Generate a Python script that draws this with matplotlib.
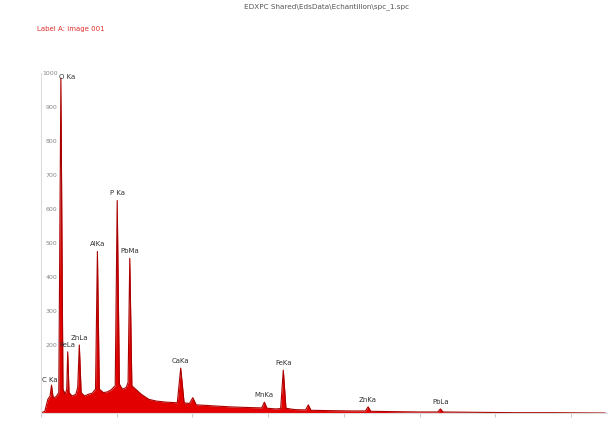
import matplotlib.pyplot as plt
import numpy as np

# spectre EDS (énergie en keV, coups)
energie = [0.00, 0.10, 0.18, 0.24, 0.277, 0.32, 0.40, 0.47, 0.525, 0.58, 0.64, 0.68,
           0.705, 0.74, 0.82, 0.92, 0.97, 1.012, 1.06, 1.15, 1.25, 1.35, 1.44,
           1.49, 1.54, 1.65, 1.75, 1.85, 1.96, 2.013, 2.07, 2.15, 2.25, 2.30,
           2.345, 2.40, 2.50, 2.65, 2.85, 3.05, 3.30, 3.60, 3.69, 3.78, 3.92,
           4.01, 4.10, 4.40, 5.00, 5.50, 5.83, 5.90, 5.97, 6.20, 6.33, 6.40,
           6.47, 6.70, 6.99, 7.06, 7.13, 7.60, 8.20, 8.57, 8.64, 8.71, 9.30,
           10.00, 10.48, 10.55, 10.62, 11.50, 12.50, 13.50, 14.90]
coups = [0, 5, 40, 50, 82, 45, 48, 60, 985, 70, 55, 70,
         180, 60, 50, 55, 75, 200, 60, 50, 55, 58, 70,
         475, 70, 60, 62, 68, 80, 625, 85, 70, 75, 90,
         455, 80, 70, 55, 40, 35, 32, 30, 132, 30, 28,
         45, 24, 22, 18, 16, 15, 32, 14, 12, 13, 126,
         14, 10, 9, 24, 8, 7, 6, 6, 18, 5, 4,
         3, 3, 12, 3, 2, 1, 1, 0]

raies = ["C Ka", "O Ka", "FeLa", "ZnLa", "AlKa", "P Ka", "PbMa", "CaKa",
         "MnKa", "FeKa", "ZnKa", "PbLa"]
raies_e = [0.277, 0.525, 0.705, 1.012, 1.49, 2.013, 2.345, 3.69,
           5.90, 6.40, 8.64, 10.55]
raies_h = [82, 985, 180, 200, 475, 625, 455, 132, 32, 126, 18, 12]

graduations_x = [0, 2, 4, 6, 8, 10, 12, 14]
graduations_y = [100, 200, 300, 400, 500, 600, 700, 800, 900, 1000]

fig = plt.figure(figsize=(6.1, 4.22), dpi=100)
ax = fig.add_axes([41/610, 1 - 413/422, 566/610, 340/422])

ax.fill_between(energie, coups, color='#e30000', linewidth=0)
ax.plot(energie, coups, color='#a80000', linewidth=0.8)

for nom, e, h in zip(raies, raies_e, raies_h):
    if nom == "O Ka":
        ax.text(e - 0.06, h - 5, nom, fontsize=5, color='#333333',
                ha='left', va='bottom')
    elif nom == "C Ka":
        ax.text(e - 0.05, h + 5, nom, fontsize=5, color='#333333',
                ha='center', va='bottom')
    else:
        ax.text(e, h + 12, nom, fontsize=5, color='#333333',
                ha='center', va='bottom')

ax.set_xlim(0, 14.95)
ax.set_ylim(0, 1000)
ax.set_xticks(graduations_x)
ax.set_xticklabels([])
ax.set_yticks(graduations_y)
# l'étiquette 100 est masquée par C Ka sur l'original
ax.set_yticklabels(['' if v == 100 else str(v) for v in graduations_y])
ax.tick_params(axis='y', direction='in', pad=-12, labelsize=4.5,
               labelcolor='#888888', length=0)
ax.tick_params(axis='x', direction='out', length=3, color='#cccccc')
for cote in ['top', 'right']:
    ax.spines[cote].set_visible(False)
for cote in ['bottom', 'left']:
    ax.spines[cote].set_color('#dddddd')
    ax.spines[cote].set_linewidth(0.8)

fig.text(327/610, 1 - 7/422, r"EDXPC Shared\EdsData\Echantillon\spc_1.spc",
         fontsize=5.2, color='#555555', ha='center', va='center')
fig.text(37/610, 1 - 29/422, "Label A: image 001", fontsize=5,
         color='#e03030', ha='left', va='center')

plt.savefig("out.png", dpi=100)
